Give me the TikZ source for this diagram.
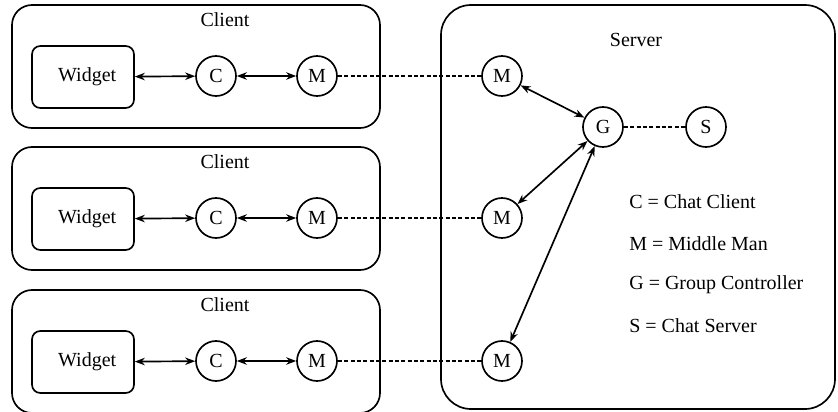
\documentclass[tikz,border=0pt]{standalone}
\usepackage{fontspec}
\setmainfont{Liberation Serif}
\usetikzlibrary{arrows.meta,positioning}

\tikzset{
  unit/.style={draw,circle,line width=1pt,minimum size=24pt,inner sep=0pt},
  widget/.style={draw,rounded corners=5pt,line width=1pt,minimum width=61.2pt,minimum height=37.2pt},
  link/.style={{Stealth[length=6pt,width=4.5pt]}-{Stealth[length=6pt,width=4.5pt]},line width=1pt},
  wire/.style={line width=.8pt,dash pattern=on 2.4pt off 1.4pt},
  legend/.style={anchor=west,inner sep=0pt}
}

\begin{document}
\begin{tikzpicture}[x=.6pt,y=-.6pt,font=\fontsize{12}{14}\selectfont]
\useasboundingbox (0,0) rectangle (838,412);

% server side
\draw[line width=1pt,rounded corners=18pt] (441,5) rectangle (835,409);
\node (srv) at (636,40) {Server};
\node[unit] (g) at (603,127) {G};
\node[unit] (s) at (706,127) {S};
\draw[wire] (g) -- (s);

\node[legend] (l1) at (629,202) {C = Chat Client};
\node[legend] (l2) at (629,244) {M = Middle Man};
\node[legend] (l3) at (629,285) {G = Group Controller};
\node[legend] (l4) at (629,326) {S = Chat Server};

% clients
\foreach \i/\y in {1/76,2/218,3/361}{
  \draw[line width=1pt,rounded corners=12pt] (12,\y-71) rectangle (380,\y+52);
  \node (cl\i) at (225,\y-56) {Client};
  \node[widget] (w\i) at (83,\y+1) {\hspace*{5pt}Widget};
  \node[unit] (c\i) at (216,\y) {C};
  \node[unit] (m\i) at (317,\y) {M};
  \node[unit] (sm\i) at (502,\y) {M};
  \draw[link] (w\i) -- (c\i);
  \draw[link] (c\i) -- (m\i);
  \draw[wire] (m\i) -- (sm\i);
  \draw[link] (g) -- (sm\i);
}

\end{tikzpicture}
\end{document}
